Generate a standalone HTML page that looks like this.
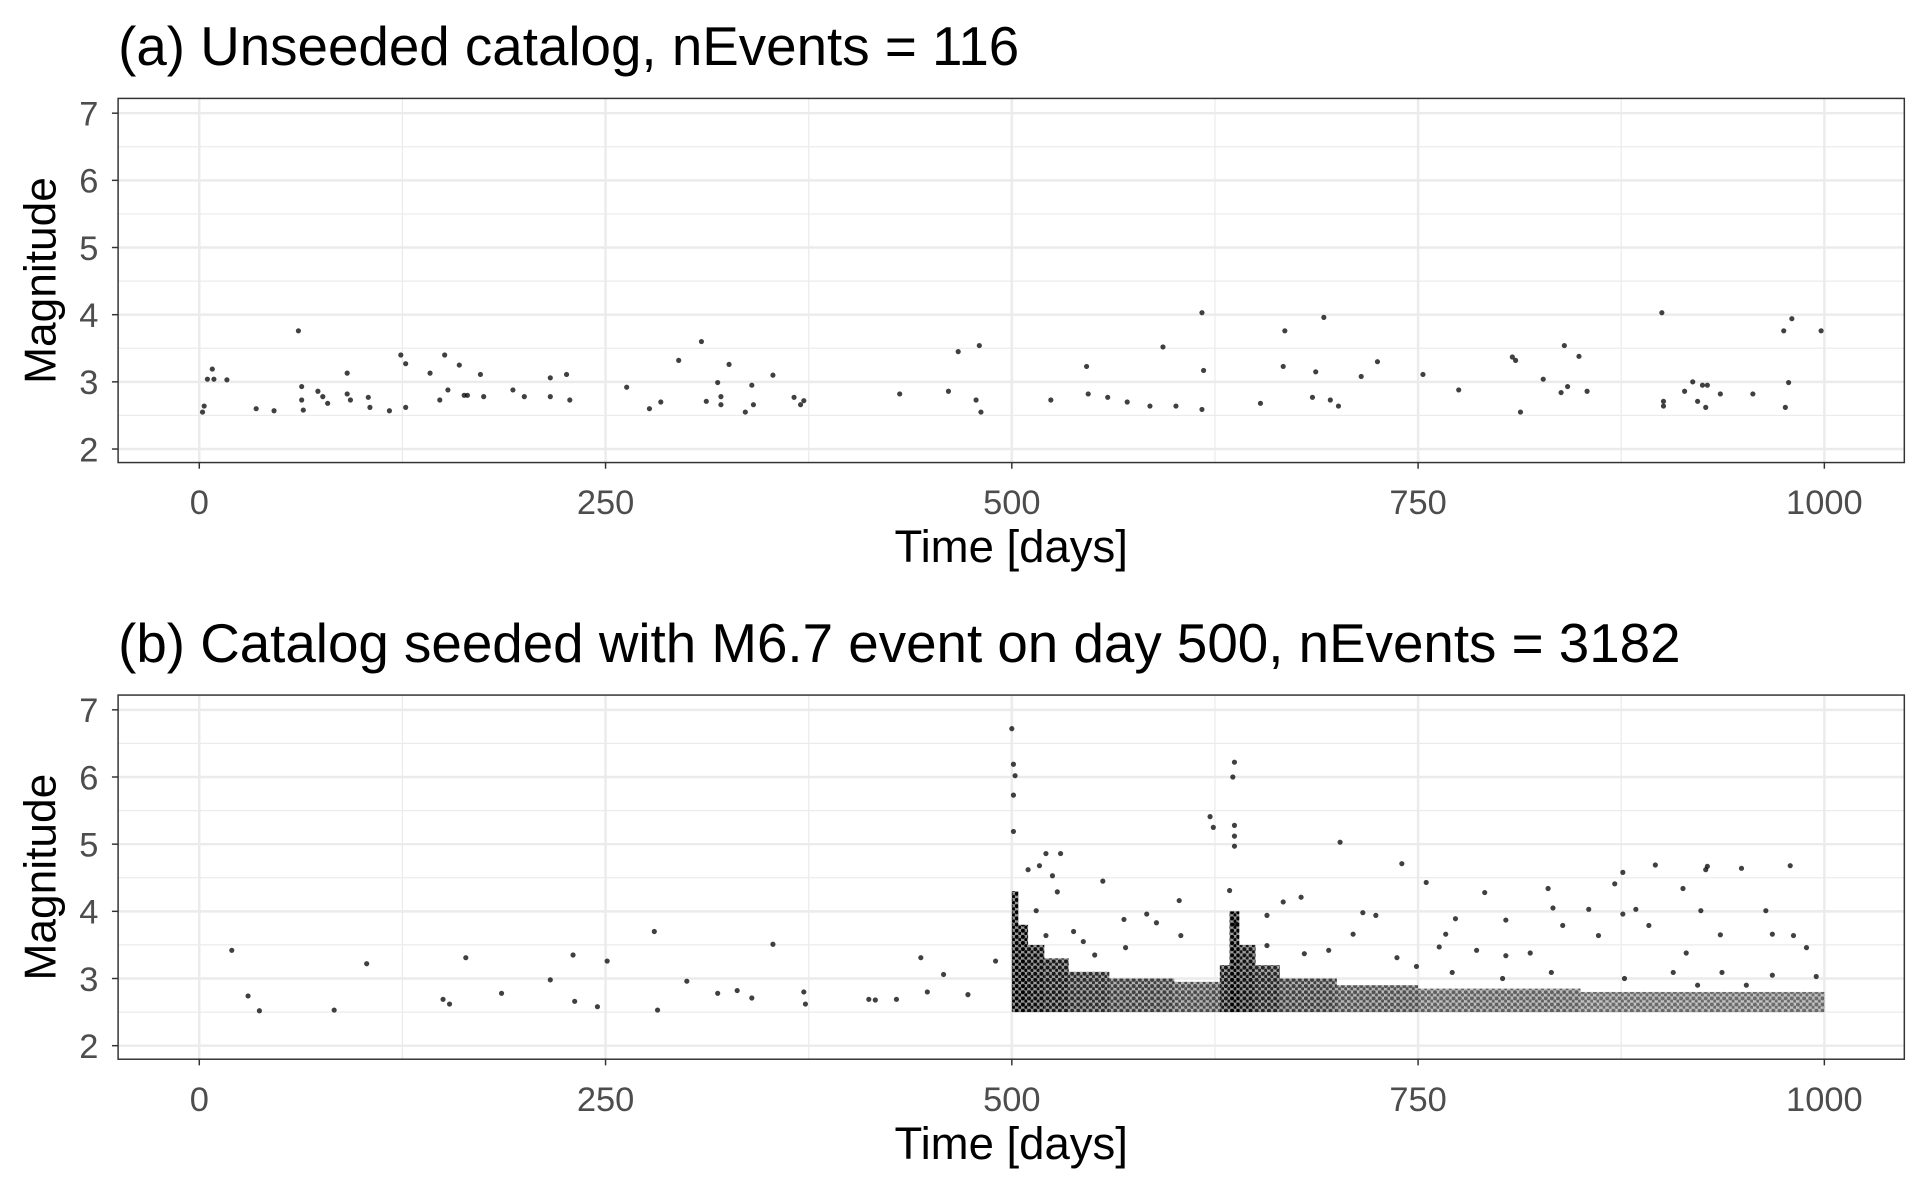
<!DOCTYPE html>
<html><head><meta charset="utf-8"><style>
html,body{margin:0;padding:0;background:#fff}
svg{display:block}
text{font-family:"Liberation Sans",Arial,sans-serif}
</style></head><body>
<svg id="chart" width="1924" height="1189" viewBox="0 0 1564 966.5" preserveAspectRatio="none" xmlns="http://www.w3.org/2000/svg">
<defs>
<pattern id="dots" patternUnits="userSpaceOnUse" width="5" height="5">
<rect width="5" height="5" fill="#000" fill-opacity="0.4"/>
<circle cx="1.5" cy="1.5" r="1.7" fill="#000"/>
<circle cx="4" cy="3.8" r="1.4" fill="#000"/>
</pattern>
</defs>
</svg>
<script>
// Panel (a) data
const aDays=[2,3,5,8,9,17,35,46,61,63,63,64,73,76,79,91,91,93,104,105,117,124,127,127,142,148,151,153,160,163,165,173,175,193,200,216,216,226,228,263,277,284,295,309,312,319,321,321,326,336,340,341,353,366,370,372,431,461,467,478,480,481,524,546,547,559,571,585,593,601,617,617,618,653,667,668,685,687,692,696,701,715,725,753,775,808,810,813,827,838,840,842,849,854,900,901,901,914,919,922,925,927,928,936,956,975,976,978,980,998];
const aMags=[2.55,2.64,3.04,3.19,3.04,3.03,2.6,2.57,3.76,2.93,2.73,2.58,2.86,2.78,2.68,3.13,2.82,2.73,2.77,2.62,2.57,3.4,3.27,2.62,3.13,2.73,3.4,2.88,3.25,2.8,2.8,3.11,2.78,2.88,2.78,3.06,2.78,3.11,2.73,2.92,2.6,2.7,3.32,3.6,2.71,2.99,2.78,2.66,3.26,2.55,2.95,2.66,3.1,2.77,2.66,2.72,2.82,2.86,3.45,2.73,3.54,2.55,2.73,3.23,2.82,2.77,2.7,2.64,3.52,2.64,2.59,4.03,3.17,2.68,3.23,3.76,2.77,3.15,3.96,2.73,2.64,3.08,3.3,3.11,2.88,3.37,3.32,2.55,3.04,2.84,3.54,2.93,3.38,2.86,4.03,2.71,2.64,2.86,3.0,2.71,2.95,2.62,2.95,2.82,2.82,3.76,2.62,2.99,3.94,3.76];
// Panel (b) sparse points
const bDays=[20,30,37,83,103,150,154,164,186,216,230,231,245,251,280,282,300,319,331,340,353,372,373,412,416,429,444,448,458,473,490,
500,501,502,501,501,637,636,622,624,637,637,637,702,740,521,510,517,530,525,
755,791,830,871,876,896,927,928,949,979,964,924,913,884,876,855,833,804,773,767,724,716,678,667,657,634,638,603,583,569,556,538,528,515,521,968,981,989,995,936,915,819,804,763,737,710,695,680,657,604,589,570,551,544,861,892,839,786,749,771,802,832,877,907,937,968,952,922];
const bMags=[3.42,2.74,2.52,2.53,3.22,2.69,2.62,3.31,2.78,2.98,3.35,2.66,2.58,3.26,3.7,2.53,2.96,2.78,2.82,2.71,3.51,2.8,2.62,2.69,2.68,2.69,3.31,2.8,3.06,2.76,3.26,
6.72,6.19,6.02,5.73,5.19,6.22,6.0,5.41,5.25,5.28,5.12,4.97,5.03,4.71,4.86,4.62,4.68,4.86,4.53,
4.43,4.28,4.34,4.41,4.58,4.69,4.62,4.67,4.64,4.68,4.01,4.01,4.34,4.03,3.96,4.03,4.05,3.87,3.89,3.66,3.94,3.98,4.21,4.14,3.94,4.31,3.81,4.16,3.96,3.88,4.45,3.7,4.29,4.01,3.64,3.66,3.64,3.46,3.03,3.65,3.38,3.38,3.34,3.47,3.31,3.66,3.42,3.37,3.49,3.64,3.83,3.46,3.35,3.55,3.64,3.79,3.79,3.42,3.18,3.09,3.0,3.09,3.0,3.09,3.09,3.05,2.9,2.9];
// Panel (b) dense aftershock bands (binned)
const binStart=[500,504,510,520,535,560,600,628,634,640,650,665,700,750,850];
const binEnd  =[504,510,520,535,560,600,628,634,640,650,665,700,750,850,1000];
const binTop  =[4.3,3.8,3.5,3.3,3.1,3.0,2.95,3.2,4.0,3.5,3.2,3.0,2.9,2.85,2.8];
const binAlpha=[1,1,0.95,0.9,0.82,0.75,0.7,0.9,1,0.92,0.85,0.75,0.68,0.62,0.58];
const xTicks=[0,250,500,750,1000];
const yTicks=[2,3,4,5,6,7];

const NS="http://www.w3.org/2000/svg";
const svg=document.getElementById('chart');
function mk(tag,attrs,parent){const e=document.createElementNS(NS,tag);for(const k in attrs)e.setAttribute(k,attrs[k]);(parent||svg).appendChild(e);return e;}

function panel(id,top,title,days,mags,dense){
  const L=96,R=1548,T=top,B=top+296;
  const x=d=>162+d*1.321;
  const y=m=>T+12+(7-m)*(B-11-(T+12))/5;
  const g=mk('g',{});
  
  
  const t=mk('text',{x:96,y:top-27,'font-size':44.5,fill:'#000'},g);t.textContent=title;
  
  
  mk('rect',{x:L,y:T,width:R-L,height:B-T,fill:'#fff'},g);
  for(let m=2.5;m<7.6;m+=1){if(y(m)>T&&y(m)<B)mk('line',{x1:L,x2:R,y1:y(m),y2:y(m),stroke:'#ebebeb','stroke-width':1},g);}
  for(let d=-125;d<=1125;d+=250){if(x(d)>L&&x(d)<R)mk('line',{x1:x(d),x2:x(d),y1:T,y2:B,stroke:'#ebebeb','stroke-width':1},g);}
  yTicks.forEach(m=>mk('line',{x1:L,x2:R,y1:y(m),y2:y(m),stroke:'#ebebeb','stroke-width':2},g));
  xTicks.forEach(d=>mk('line',{x1:x(d),x2:x(d),y1:T,y2:B,stroke:'#ebebeb','stroke-width':2},g));
  if(dense){
    for(let i=0;i<binStart.length;i++){
      const r=mk('rect',{x:x(binStart[i]),y:y(binTop[i]),width:x(binEnd[i])-x(binStart[i]),height:y(2.5)-y(binTop[i]),fill:'url(#dots)','fill-opacity':binAlpha[i]},g);
      
      
    }
  }
  for(let i=0;i<days.length;i++){
    const c=mk('circle',{cx:x(days[i]),cy:y(mags[i]),r:2.1,fill:'#000','fill-opacity':0.75},g);
    
    
  }
  mk('rect',{x:L,y:T,width:R-L,height:B-T,fill:'none',stroke:'#333','stroke-width':1.2},g);
  yTicks.forEach(m=>{
    mk('line',{x1:L-5,x2:L,y1:y(m),y2:y(m),stroke:'#333','stroke-width':1.2},g);
    const tl=mk('text',{x:L-16,y:y(m)+10,'font-size':28,fill:'#4d4d4d','text-anchor':'end'},g);tl.textContent=m;
    
    
  });
  xTicks.forEach(d=>{
    mk('line',{x1:x(d),x2:x(d),y1:B,y2:B+5,stroke:'#333','stroke-width':1.2},g);
    const tl=mk('text',{x:x(d),y:B+42,'font-size':28,fill:'#4d4d4d','text-anchor':'middle'},g);tl.textContent=d;
    
    
  });
  const xt=mk('text',{x:822,y:B+81,'font-size':37,fill:'#000','text-anchor':'middle'},g);xt.textContent='Time [days]';
  
  
  const yc=(T+B)/2;
  const yt=mk('text',{x:45,y:yc,'font-size':36,fill:'#000','text-anchor':'middle',transform:'rotate(-90 45 '+yc+')'},g);yt.textContent='Magnitude';
  
  
}
panel('panel-a',80,'(a) Unseeded catalog, nEvents = 116',aDays,aMags,false);
panel('panel-b',565,'(b) Catalog seeded with M6.7 event on day 500, nEvents = 3182',bDays,bMags,true);
</script>
</body></html>
